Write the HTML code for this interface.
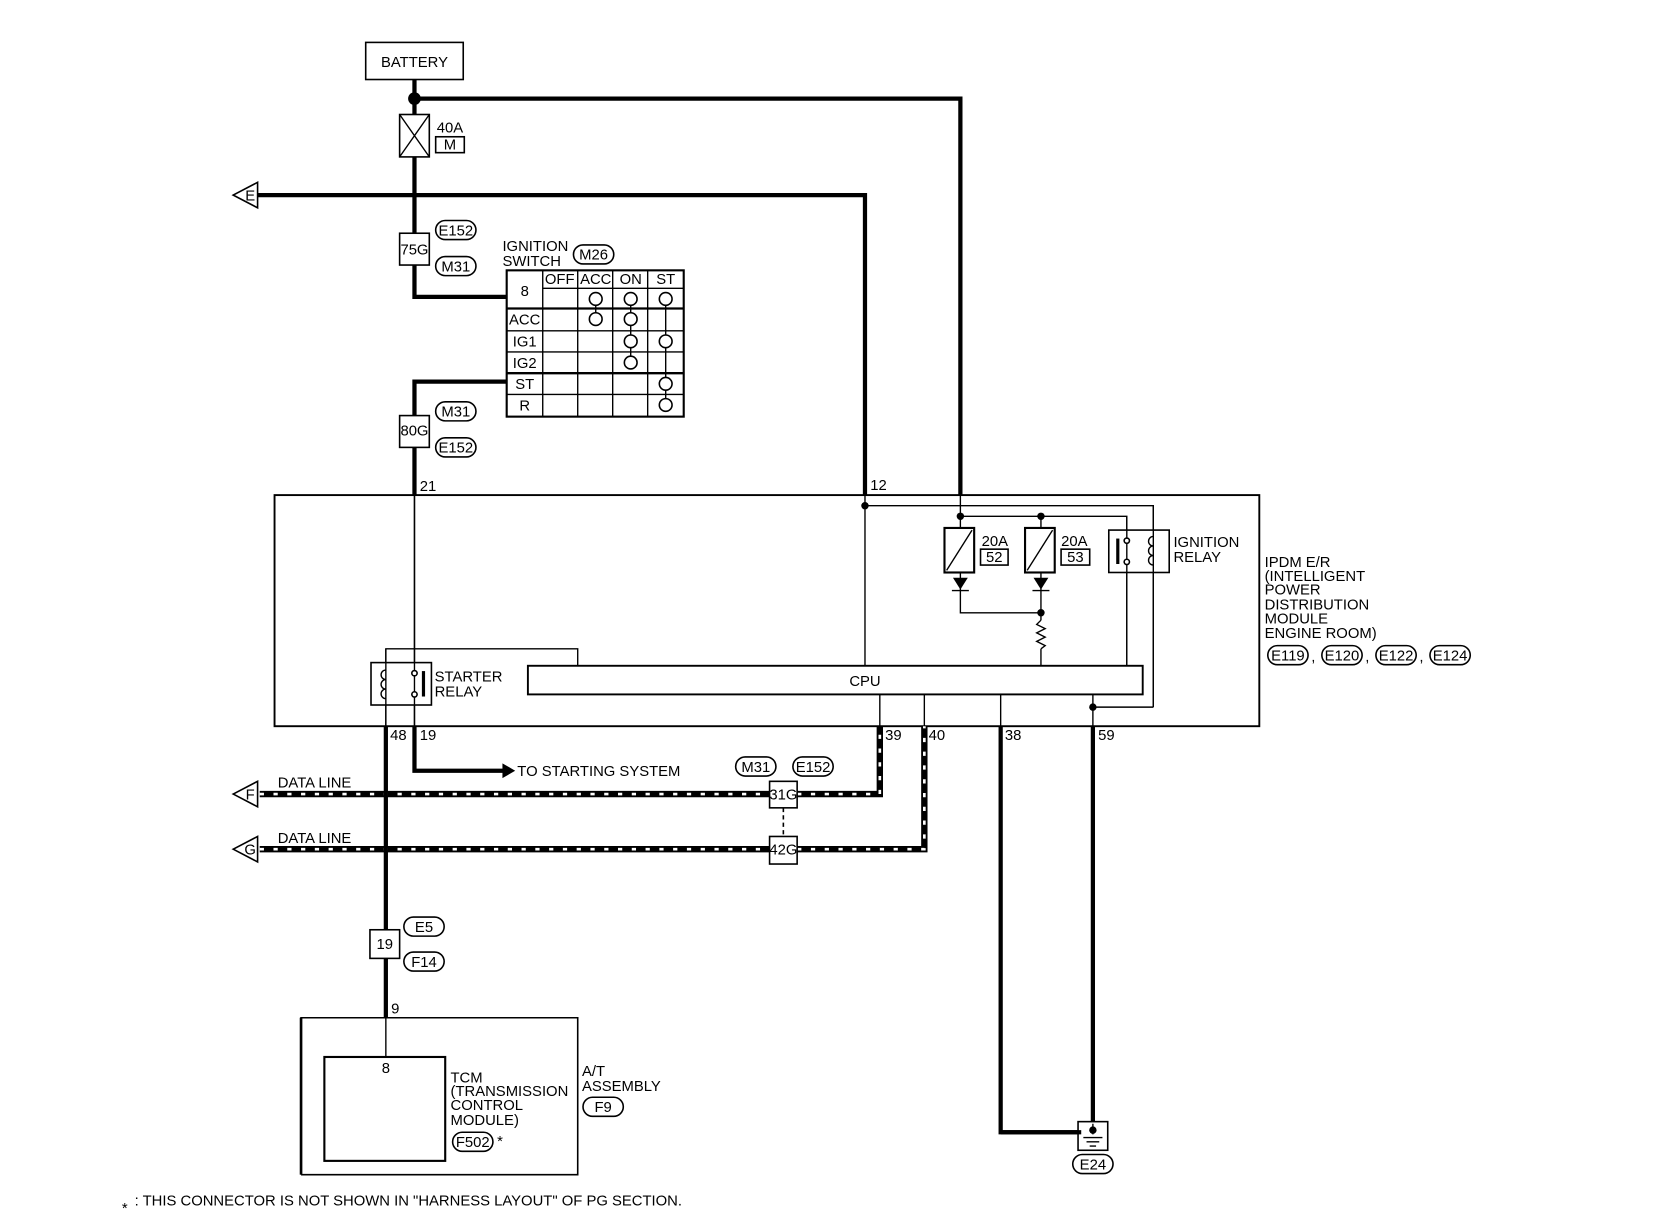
<!DOCTYPE html>
<html><head><meta charset="utf-8"><style>
html,body{margin:0;padding:0;background:#fff;}
svg{display:block;}
text{font-family:"Liberation Sans",sans-serif;font-size:14px;fill:#000;}
.t{stroke:#000;stroke-width:1.3;fill:none;}
.k{stroke:#000;stroke-width:4;fill:none;}
.b{stroke:#000;stroke-width:1.5;fill:#fff;}
</style></head><body>
<svg width="1660" height="1216" viewBox="0 0 1566 1147" preserveAspectRatio="none" xmlns="http://www.w3.org/2000/svg">
<defs>
<g id="ov"><rect x="-19" y="-9" width="38" height="18" rx="9" ry="9" class="b"/></g>
</defs>
<rect x="345" y="40" width="92" height="35" class="b"/>
<text x="391" y="63" text-anchor="middle">BATTERY</text>
<path d="M391 75V108M391 148V280H478" class="k"/>
<circle cx="391" cy="93" r="6"/>
<path d="M391 93H906V467" class="k"/>
<rect x="377" y="108" width="28" height="40" class="b"/>
<path d="M377 108L405 148M405 108L377 148" class="t"/>
<text x="412" y="125">40A</text>
<rect x="411" y="129" width="27" height="15" class="b"/>
<text x="424.5" y="141" text-anchor="middle" font-size="13">M</text>
<path d="M243 184H816V467" class="k"/>
<polygon points="220,184 243,172 243,196" class="b"/>
<text x="236" y="189" text-anchor="middle" font-size="12">E</text>
<rect x="377" y="220" width="28" height="30" class="b"/>
<text x="391" y="240" text-anchor="middle" font-size="12">75G</text>
<use href="#ov" x="430" y="217"/><text x="430" y="222" text-anchor="middle" font-size="12">E152</text>
<use href="#ov" x="430" y="251"/><text x="430" y="256" text-anchor="middle" font-size="12">M31</text>
<text x="474" y="237">IGNITION</text>
<text x="474" y="251">SWITCH</text>
<use href="#ov" x="560" y="240"/><text x="560" y="245" text-anchor="middle" font-size="12">M26</text>
<rect x="478" y="255" width="167" height="138" fill="none" stroke="#000" stroke-width="2"/>
<path d="M512 255V393M545 255V393M578 255V393M611 255V393M512 272H645M478 312H645M478 332H645M478 372H645" class="t"/>
<path d="M478 291H645M478 352H645" stroke="#000" stroke-width="2.2"/>
<g font-size="12" text-anchor="middle">
<text x="495" y="279">8</text><text x="528" y="268">OFF</text><text x="562" y="268">ACC</text><text x="595" y="268">ON</text><text x="628" y="268">ST</text>
<text x="495" y="306">ACC</text><text x="495" y="327">IG1</text><text x="495" y="347">IG2</text><text x="495" y="367">ST</text><text x="495" y="387">R</text>
</g>
<path d="M562 282V301M595 282V342M628 282V382" class="t"/>
<g class="b">
<circle cx="562" cy="282" r="6"/><circle cx="562" cy="301" r="6"/>
<circle cx="595" cy="282" r="6"/><circle cx="595" cy="301" r="6"/><circle cx="595" cy="322" r="6"/><circle cx="595" cy="342" r="6"/>
<circle cx="628" cy="282" r="6"/><circle cx="628" cy="322" r="6"/><circle cx="628" cy="362" r="6"/><circle cx="628" cy="382" r="6"/>
</g>
<path d="M478 360H391V467" class="k"/>
<rect x="377" y="392" width="28" height="30" class="b"/>
<text x="391" y="411" text-anchor="middle" font-size="12">80G</text>
<use href="#ov" x="430" y="388"/><text x="430" y="393" text-anchor="middle" font-size="12">M31</text>
<use href="#ov" x="430" y="422"/><text x="430" y="427" text-anchor="middle" font-size="12">E152</text>
<text x="396" y="463" font-size="13">21</text><text x="821" y="462" font-size="13">12</text>
<rect x="259" y="467" width="929" height="218" fill="none" stroke="#000" stroke-width="1.8"/>
<path d="M816 467V628M816 477H1088V667M906 467V578H982M906 487H1063V628M391 467V625M391 665V685M364 665V685M545 628V612H364V625M982 487V498M906 487V498M982 540V585M982 612V628M830 655V685M872 655V685M944 655V685M1031 655V685M1031 667H1088" class="t"/>
<circle cx="816" cy="477" r="3.5"/><circle cx="906" cy="487" r="3.5"/><circle cx="982" cy="487" r="3.5"/><circle cx="982" cy="578" r="3.5"/><circle cx="1031" cy="667" r="3.5"/>
<path d="M982 585l-4 4 8 4-8 4 8 4-8 4 8 4-4 3" class="t"/>
<rect x="891" y="498" width="28" height="42" fill="#fff" stroke="#000" stroke-width="2"/>
<path d="M893 538L917 500" class="t"/>
<rect x="967" y="498" width="28" height="42" fill="#fff" stroke="#000" stroke-width="2"/>
<path d="M969 538L993 500" class="t"/>
<polygon points="899,545 913,545 906,556"/><path d="M898 557H914" class="t"/>
<polygon points="975,545 989,545 982,556"/><path d="M974 557H990" class="t"/>
<text x="926" y="515">20A</text><rect x="925" y="518" width="26" height="15" class="b"/><text x="938" y="530" text-anchor="middle" font-size="13">52</text>
<text x="1001" y="515">20A</text><rect x="1001" y="518" width="27" height="15" class="b"/><text x="1014.5" y="530" text-anchor="middle" font-size="13">53</text>
<rect x="1046" y="500" width="57" height="40" class="b"/>
<path d="M1063 487V628M1088 477V667" class="t"/>
<rect x="1053" y="508" width="3" height="24" fill="#000"/>
<circle cx="1063" cy="510" r="2.5" class="b"/><circle cx="1063" cy="530" r="2.5" class="b"/>
<path d="M1088 506a4 4 0 1 0 0 9a4 4 0 1 0 0 9a4 4 0 1 0 0 9" class="t" fill="#fff"/>
<text x="1107" y="516">IGNITION</text><text x="1107" y="530">RELAY</text>
<rect x="498" y="628" width="580" height="27" fill="#fff" stroke="#000" stroke-width="1.8"/>
<text x="816" y="647" text-anchor="middle">CPU</text>
<rect x="350" y="625" width="57" height="40" class="b"/>
<path d="M364 612V685M391 467V685" class="t"/>
<path d="M364 632a4 4 0 1 0 0 9a4 4 0 1 0 0 9a4 4 0 1 0 0 9" class="t" fill="#fff"/>
<rect x="398" y="633" width="3" height="24" fill="#000"/>
<circle cx="391" cy="635" r="2.5" class="b"/><circle cx="391" cy="655" r="2.5" class="b"/>
<text x="410" y="643">STARTER</text><text x="410" y="657">RELAY</text>
<g font-size="14.5">
<text x="1193" y="535">IPDM E/R</text><text x="1193" y="548">(INTELLIGENT</text><text x="1193" y="561">POWER</text><text x="1193" y="575">DISTRIBUTION</text><text x="1193" y="588">MODULE</text><text x="1193" y="602">ENGINE ROOM)</text>
</g>
<use href="#ov" x="1215" y="618"/><text x="1215" y="623" text-anchor="middle" font-size="12">E119</text><text x="1237" y="624">,</text>
<use href="#ov" x="1266" y="618"/><text x="1266" y="623" text-anchor="middle" font-size="12">E120</text><text x="1288" y="624">,</text>
<use href="#ov" x="1317" y="618"/><text x="1317" y="623" text-anchor="middle" font-size="12">E122</text><text x="1339" y="624">,</text>
<use href="#ov" x="1368" y="618"/><text x="1368" y="623" text-anchor="middle" font-size="12">E124</text>
<g font-size="13"><text x="368" y="698">48</text><text x="396" y="698">19</text><text x="835" y="698">39</text><text x="876" y="698">40</text><text x="948" y="698">38</text><text x="1036" y="698">59</text></g>
<path d="M391 685V727H476" class="k"/>
<polygon points="474,720 486,727 474,734"/>
<text x="488" y="732">TO STARTING SYSTEM</text>
<path d="M245 749H830V685M245 801H872V685" stroke="#000" stroke-width="6" fill="none"/>
<path d="M245 749H830V685M245 801H872V685" stroke="#fff" stroke-width="2.5" fill="none" stroke-dasharray="4 9"/>
<polygon points="220,749 243,737 243,761" class="b"/><text x="236" y="754" text-anchor="middle" font-size="12">F</text>
<polygon points="220,801 243,789 243,813" class="b"/><text x="236" y="806" text-anchor="middle" font-size="12">G</text>
<text x="262" y="743">DATA LINE</text><text x="262" y="795">DATA LINE</text>
<path d="M739 762V789" stroke="#000" stroke-width="1.5" stroke-dasharray="4 3"/>
<rect x="726" y="737" width="26" height="25" class="b"/><text x="739" y="754" text-anchor="middle" font-size="12">31G</text>
<rect x="726" y="789" width="26" height="26" class="b"/><text x="739" y="806" text-anchor="middle" font-size="12">42G</text>
<use href="#ov" x="713" y="723"/><text x="713" y="728" text-anchor="middle" font-size="12">M31</text>
<use href="#ov" x="767" y="723"/><text x="767" y="728" text-anchor="middle" font-size="12">E152</text>
<path d="M364 685V960" class="k"/>
<rect x="349" y="877" width="28" height="27" class="b"/><text x="363" y="895" text-anchor="middle" font-size="13">19</text>
<use href="#ov" x="400" y="874"/><text x="400" y="879" text-anchor="middle" font-size="12">E5</text>
<use href="#ov" x="400" y="907"/><text x="400" y="912" text-anchor="middle" font-size="12">F14</text>
<text x="369" y="956" font-size="13">9</text>
<path d="M284 1108V960H545V1108H284" fill="none" stroke="#000" stroke-width="1.5"/>
<path d="M284 960V1108" stroke="#000" stroke-width="2.5"/>
<path d="M364 960V997" class="t"/>
<rect x="306" y="997" width="114" height="98" fill="none" stroke="#000" stroke-width="2"/>
<text x="364" y="1012" text-anchor="middle" font-size="13">8</text>
<g font-size="14.5"><text x="425" y="1021">TCM</text><text x="425" y="1034">(TRANSMISSION</text><text x="425" y="1047">CONTROL</text><text x="425" y="1061">MODULE)</text>
<text x="549" y="1015">A/T</text><text x="549" y="1029">ASSEMBLY</text></g>
<use href="#ov" x="446" y="1077"/><text x="446" y="1082" text-anchor="middle" font-size="12">F502</text>
<text x="469" y="1081" font-size="20">*</text>
<use href="#ov" x="569" y="1044"/><text x="569" y="1049" text-anchor="middle" font-size="12">F9</text>
<path d="M944 685V1068H1017M1031 685V1066" class="k"/>
<rect x="1017" y="1058" width="28" height="27" class="b"/>
<path d="M944 1068H1020" class="k"/>
<path d="M1031 1060V1070M1022 1073H1040M1025 1077H1037M1028 1081H1034" class="t"/>
<circle cx="1031" cy="1066" r="3.5"/>
<use href="#ov" x="1031" y="1098"/><text x="1031" y="1103" text-anchor="middle" font-size="12">E24</text>
<text x="115" y="1144" font-size="20">*</text>
<text x="127" y="1137" font-size="14.2">: THIS CONNECTOR IS NOT SHOWN IN "HARNESS LAYOUT" OF PG SECTION.</text>
</svg>
</body></html>
